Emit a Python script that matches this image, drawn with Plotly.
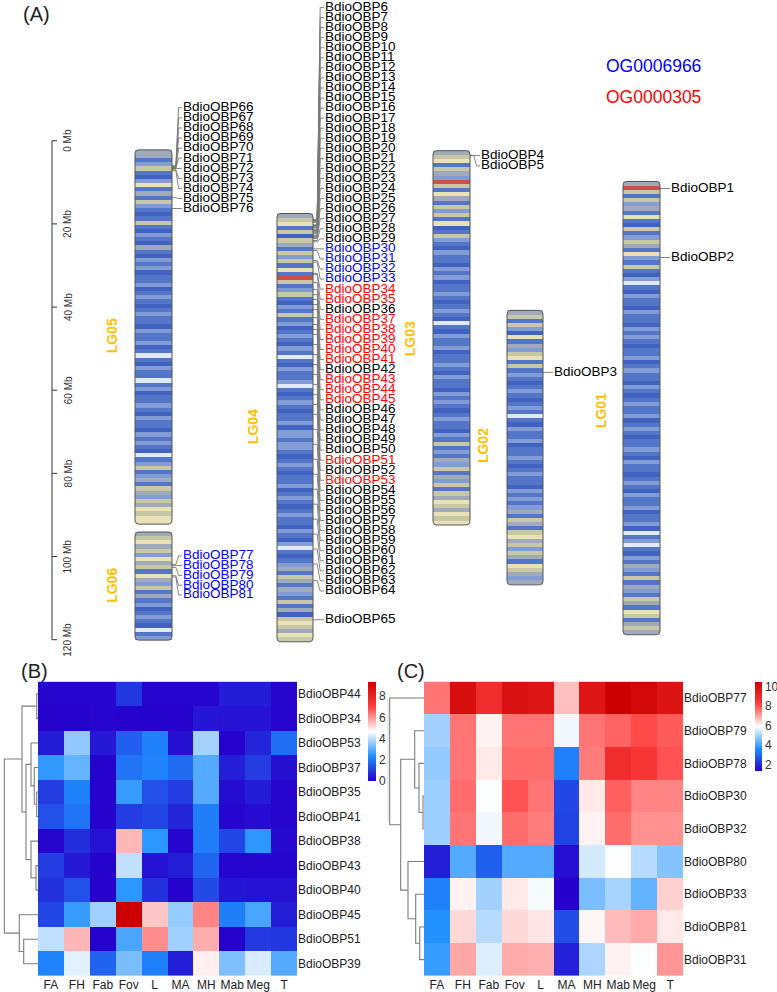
import plotly.graph_objects as go

W, H = 777, 992
FONT = "Liberation Sans, Arial, sans-serif"

def py(p):
    return 1 - p / H

# ---------------- Panel A data ----------------
chrom_names = ["LG05", "LG06", "LG04", "LG03", "LG02", "LG01"]
chrom_start_mb = [2.2, 94.1, 17.5, 2.4, 40.8, 9.8]

# density class per 1 Mb bin (0 white, 1 light blue, 2 blue, 3 dark blue, 4 grey, 5 khaki, 6 pale yellow, 7 red)
dens_LG05 = [4,4,2,1,5,2,3,1,6,2,4,2,5,1,2,3,2,5,2,3,1,2,3,4,2,3,1,
             2,1,3,2,2,1,3,2,1,2,3,2,1,2,2,3,1,2,2,1,3,2,
             0,2,3,1,2,2,0,
             2,1,3,2,2,1,2,3,1,2,2,3,1,2,1,2,3,0,2,1,
             5,2,1,4,2,5,4,1,5,4,6,5,6,6]
dens_LG06 = [4,5,6,4,5,1,6,4,5,2,6,4,1,5,2,4,2,1,3,2,1,2,3,0,2,1]
dens_LG04 = [4,5,6,2,5,3,5,4,2,5,1,5,2,6,2,7,5,2,1,5,2,3,1,2,5,
             2,1,3,2,1,2,3,1,2,0,2,3,1,2,2,1,0,
             2,3,2,1,2,3,2,2,1,3,1,1,2,1,1,2,3,2,1,2,3,2,2,1,3,2,1,2,3,2,1,2,2,3,1,2,3,1,
             0,2,3,2,1,4,2,5,4,2,4,1,2,5,2,4,3,5,6,5,4,6,5]
dens_LG03 = [4,5,6,2,5,4,1,7,5,2,6,4,2,5,1,5,2,6,3,2,5,1,
             2,3,1,2,2,3,1,2,1,3,2,2,1,2,3,2,1,2,3,0,
             2,3,1,2,2,1,3,2,2,1,2,3,1,2,2,3,1,2,1,2,3,2,1,2,2,3,1,2,5,2,1,2,4,1,
             5,2,4,1,5,2,5,4,6,5,4,6,5,6]
dens_LG02 = [4,5,2,5,1,3,6,2,4,1,5,6,2,5,2,1,2,
             3,2,1,2,3,2,1,2,0,
             2,3,1,2,2,1,3,2,2,1,2,3,2,1,2,2,3,1,2,1,
             2,1,4,2,5,4,2,5,6,4,5,1,5,4,2,6,5,4,1,4]
dens_LG01 = [4,7,5,2,5,1,4,2,6,2,3,5,2,1,5,4,2,6,1,2,5,2,3,1,0,2,3,1,2,
             2,3,1,2,2,3,1,2,1,2,3,2,2,1,3,2,1,2,2,3,1,2,3,2,1,2,2,1,3,2,1,2,3,2,2,1,2,3,1,2,2,3,2,1,2,3,1,2,2,1,3,2,
             2,1,3,0,2,1,0,2,3,1,2,4,1,2,5,2,4,1,2,5,4,2,6,5,2,4,5,4]
chrom_density = [dens_LG05, dens_LG06, dens_LG04, dens_LG03, dens_LG02, dens_LG01]

genes_LG05 = [66, 67, 68, 69, 70, 71, 72, 73, 74, 75, 76]
pos_LG05 = [6.0, 6.2, 6.4, 6.5, 6.6, 6.7, 6.8, 7.0, 7.2, 13.7, 16.3]
genes_LG06 = [77, 78, 79, 80, 81]
pos_LG06 = [101.9, 102.2, 102.6, 104.6, 104.9]
genes_LG04 = list(range(6, 66))
pos_LG04 = [18.9, 19.0, 19.2, 19.3, 19.5, 19.6,
            20.2, 20.4, 20.5, 20.7, 20.9, 21.0,
            21.4, 21.6, 21.8, 22.0, 22.2, 22.4,
            22.8, 23.0, 23.3, 23.5, 24.0, 24.3,
            26.0, 26.4, 28.8, 29.2, 31.9, 32.2, 34.1,
            35.8, 37.0, 38.2, 39.4, 40.6, 42.5, 44.2, 45.4, 46.6,
            49.0, 51.4, 53.8, 56.2, 58.6, 61.0, 63.4, 65.8,
            69.4, 73.0, 76.6, 80.2, 83.8, 87.4, 91.0, 94.6, 98.2, 101.8,
            105.8, 115.2]
genes_LG03 = [4, 5]
pos_LG03 = [3.5, 3.6]
genes_LG02 = [3]
pos_LG02 = [55.7]
genes_LG01 = [1, 2]
pos_LG01 = [11.5, 28.1]

og_blue = [30, 31, 32, 33, 77, 78, 79, 80, 81]
og_red = [34, 35, 37, 38, 39, 40, 41, 43, 44, 45, 51, 53]
legend_names = ["OG0006966", "OG0000305"]

scale_ticks = [0, 20, 40, 60, 80, 100, 120]

# ---------------- Panel B / C data ----------------
tissues = ["FA", "FH", "Fab", "Fov", "L", "MA", "MH", "Mab", "Meg", "T"]
rows_B = ["BdioOBP44", "BdioOBP34", "BdioOBP53", "BdioOBP37", "BdioOBP35", "BdioOBP41",
          "BdioOBP38", "BdioOBP43", "BdioOBP40", "BdioOBP45", "BdioOBP51", "BdioOBP39"]
expr_B = [
    [0.10, 0.10, 0.10, 0.90, 0.10, 0.10, 0.10, 0.45, 0.45, 0.10],
    [0.05, 0.05, 0.10, 0.05, 0.05, 0.05, 0.35, 0.30, 0.30, 0.10],
    [0.45, 3.55, 0.40, 1.55, 2.10, 0.25, 3.75, 0.05, 0.60, 1.80],
    [2.55, 3.10, 0.05, 1.90, 2.15, 1.75, 2.90, 0.50, 1.00, 0.25],
    [1.00, 2.10, 0.05, 2.60, 1.30, 1.00, 2.90, 0.20, 0.45, 0.10],
    [1.30, 1.90, 0.05, 1.00, 1.15, 0.60, 2.05, 0.10, 0.20, 0.10],
    [0.10, 0.75, 0.30, 5.60, 2.50, 0.10, 2.05, 1.15, 2.50, 0.15],
    [1.00, 0.40, 0.05, 4.05, 0.30, 0.50, 1.65, 0.10, 0.10, 0.10],
    [0.80, 1.30, 0.05, 2.50, 0.80, 0.05, 1.20, 0.35, 0.30, 0.30],
    [1.15, 2.60, 3.70, 9.40, 5.40, 3.60, 6.20, 2.05, 2.80, 0.50],
    [4.05, 5.60, 0.05, 2.80, 6.10, 3.70, 5.70, 0.05, 0.95, 0.90],
    [2.15, 4.40, 1.60, 3.30, 2.10, 0.50, 4.90, 3.35, 4.30, 2.90],
]
rows_C = ["BdioOBP77", "BdioOBP79", "BdioOBP78", "BdioOBP30", "BdioOBP32",
          "BdioOBP80", "BdioOBP33", "BdioOBP81", "BdioOBP31"]
expr_C = [
    [7.6, 10.0, 8.9, 9.9, 9.7, 6.7, 9.7, 10.5, 10.2, 9.8],
    [5.0, 7.6, 6.1, 7.6, 7.6, 5.8, 7.6, 7.8, 8.1, 7.9],
    [4.85, 7.6, 6.2, 7.7, 7.7, 3.4, 7.5, 8.9, 8.6, 8.0],
    [4.95, 7.7, 5.9, 8.0, 7.6, 2.5, 6.2, 7.85, 7.4, 7.4],
    [4.95, 7.6, 5.8, 7.7, 7.5, 2.45, 6.1, 7.7, 7.25, 7.25],
    [1.85, 4.2, 2.9, 4.2, 4.2, 1.6, 5.5, 5.9, 5.2, 4.7],
    [3.4, 6.1, 5.0, 6.2, 5.85, 1.38, 4.6, 5.05, 4.35, 6.5],
    [3.7, 6.4, 5.2, 6.4, 6.25, 2.6, 6.05, 6.75, 6.95, 6.2],
    [3.9, 7.0, 5.6, 6.95, 6.9, 1.9, 5.1, 6.1, 5.9, 7.2],
]
# dendrogram merges: (child a, child b, height)
merges_B = [(0, 1, 1.3), (4, 5, 1.3), (3, 13, 3.7), (2, 14, 7.0), (7, 8, 2.0),
            (6, 16, 7.0), (15, 17, 12.0), (12, 18, 16.0), (10, 11, 14.3),
            (9, 20, 18.7), (19, 21, 33.7)]
merges_C = [(3, 4, 1.0), (2, 9, 5.0), (1, 10, 9.3), (7, 8, 4.3), (6, 12, 8.3),
            (5, 13, 16.0), (11, 14, 23.3), (0, 15, 34.3)]

# ---------------- styles / layout ----------------
dens_colors = ["rgb(226,233,250)", "rgb(130,156,214)", "rgb(84,118,200)", "rgb(64,99,193)",
               "rgb(160,170,186)", "rgb(200,200,166)", "rgb(232,226,182)", "rgb(205,80,72)"]
ncls = len(dens_colors)
dens_cs = []
for k, c in enumerate(dens_colors):
    dens_cs.append([k / ncls, c])
    dens_cs.append([(k + 1) / ncls, c])

chrom_x = {"LG05": (135, 172), "LG06": (135, 172), "LG04": (277, 313),
           "LG03": (433, 470), "LG02": (507, 543), "LG01": (623, 660)}
chrom_label_xy = {"LG05": (112, 337), "LG06": (112, 587), "LG04": (253, 428),
                  "LG03": (410, 340), "LG02": (483, 447), "LG01": (601, 412)}

PX_PER_MB = 4.1667
MB0_PX = 141.0
def mb(p):
    return (p - MB0_PX) / PX_PER_MB

fig = go.Figure()

# chromosomes
shapes = []
for name, start, dens in zip(chrom_names, chrom_start_mb, chrom_density):
    x0, x1 = chrom_x[name]
    n = len(dens)
    yedges = [start + i for i in range(n + 1)]
    fig.add_trace(go.Heatmap(z=[[v] for v in dens], x=[x0, x1], y=yedges,
                             colorscale=dens_cs, zmin=-0.5, zmax=ncls - 0.5,
                             showscale=False, hoverinfo="skip", xaxis="x", yaxis="y"))
    y0, y1 = start, start + n
    rx, ry = 4, 1.1
    path = (f"M {x0},{y0+ry} Q {x0},{y0} {x0+rx},{y0} L {x1-rx},{y0} Q {x1},{y0} {x1},{y0+ry} "
            f"L {x1},{y1-ry} Q {x1},{y1} {x1-rx},{y1} L {x0+rx},{y1} Q {x0},{y1} {x0},{y1-ry} Z")
    shapes.append(dict(type="path", path=path, xref="x", yref="y",
                       line=dict(color="rgb(85,85,85)", width=1)))

# gene labels and connectors
gene_groups = [
    # genes, positions, chrom right edge, text x, stacked label start (px), step (px), n stacked
    (genes_LG05, pos_LG05, 172, 183, 108.0, 10.1, 11),
    (genes_LG06, pos_LG06, 172, 183, 557.0, 9.8, 5),
    (genes_LG04, pos_LG04, 313, 325, 7.5, 10.08, 59),
    (genes_LG03, pos_LG03, 470, 481, 156.0, 10.2, 2),
    (genes_LG02, pos_LG02, 543, 554, 0, 0, 0),
    (genes_LG01, pos_LG01, 660, 671, 0, 0, 0),
]
for genes, pos, xr, xt, lstart, lstep, nst in gene_groups:
    labs = []
    for i, g in enumerate(pos):
        if i < nst:
            labs.append(mb(lstart + lstep * i))
        else:
            labs.append(g)
    xs, ys = [], []
    gap = xt - xr
    for g, l in zip(pos, labs):
        xs += [xr, xr + gap * 0.35, xr + gap * 0.6, xt - 1, None]
        ys += [g, g, l, l, None]
    fig.add_trace(go.Scatter(x=xs, y=ys, mode="lines", line=dict(color="rgb(120,120,120)", width=0.9),
                             hoverinfo="skip", showlegend=False, xaxis="x", yaxis="y"))
    cols = ["#0000FF" if g in og_blue else ("#FF0000" if g in og_red else "#000000") for g in genes]
    fig.add_trace(go.Scatter(x=[xt] * len(genes), y=labs, mode="text",
                             text=[f"BdioOBP{g}" for g in genes], textposition="middle right",
                             textfont=dict(family=FONT, size=13.5, color=cols),
                             cliponaxis=False, hoverinfo="skip", showlegend=False,
                             xaxis="x", yaxis="y"))

# scale bar
sx, sy = [52, 52, None], [scale_ticks[0], scale_ticks[-1], None]
for t in scale_ticks:
    sx += [52, 57, None]
    sy += [t, t, None]
fig.add_trace(go.Scatter(x=sx, y=sy, mode="lines", line=dict(color="#333", width=1),
                         hoverinfo="skip", showlegend=False, xaxis="x", yaxis="y"))

annotations = []
for t in scale_ticks:
    annotations.append(dict(x=68, y=t, xref="x", yref="y", text=f"{t} Mb", textangle=-90,
                            showarrow=False, font=dict(family=FONT, size=10, color="#333")))
for name in chrom_names:
    lx, ly = chrom_label_xy[name]
    annotations.append(dict(x=lx, y=mb(ly), xref="x", yref="y", text=f"<b>{name}</b>",
                            textangle=-90, showarrow=False,
                            font=dict(family=FONT, size=14, color="#FFC000")))
annotations.append(dict(x=653, y=mb(66), xref="x", yref="y", text=legend_names[0], showarrow=False,
                        font=dict(family=FONT, size=17.5, color="#0000FF")))
annotations.append(dict(x=653, y=mb(97), xref="x", yref="y", text=legend_names[1], showarrow=False,
                        font=dict(family=FONT, size=17.5, color="#FF0000")))
for lab, x, y in [("(A)", 36, 14), ("(B)", 34, 672), ("(C)", 411, 672)]:
    annotations.append(dict(x=x / W, y=py(y), xref="paper", yref="paper", text=lab, showarrow=False,
                            xanchor="center", yanchor="middle",
                            font=dict(family=FONT, size=20, color="#222")))

# heatmaps
hm_cs = [[0, "rgb(38,0,204)"], [0.25, "rgb(30,144,255)"], [0.5, "rgb(255,255,255)"],
         [0.75, "rgb(255,64,64)"], [1, "rgb(204,0,0)"]]
fig.add_trace(go.Heatmap(z=expr_B, x=tissues, y=rows_B, colorscale=hm_cs, zmin=0, zmax=9.4,
                         xaxis="x2", yaxis="y2", hoverinfo="skip",
                         colorbar=dict(x=368 / W, xanchor="left", y=py(732.5), yanchor="middle",
                                       len=99, lenmode="pixels", thickness=8,
                                       outlinewidth=0, tickvals=[0, 2, 4, 6, 8], ticks="",
                                       tickfont=dict(family=FONT, size=12, color="#333"),
                                       xpad=0, ypad=0)))
fig.add_trace(go.Heatmap(z=expr_C, x=tissues, y=rows_C, colorscale=hm_cs, zmin=1.38, zmax=10.5,
                         xaxis="x4", yaxis="y4", hoverinfo="skip",
                         colorbar=dict(x=755 / W, xanchor="left", y=py(727.5), yanchor="middle",
                                       len=89, lenmode="pixels", thickness=7,
                                       outlinewidth=0, tickvals=[2, 4, 6, 8, 10], ticks="",
                                       tickfont=dict(family=FONT, size=12, color="#333"),
                                       xpad=0, ypad=0)))

def dendro_lines(merges, n):
    pos = {i: float(i) for i in range(n)}
    hgt = {i: 0.0 for i in range(n)}
    xs, ys = [], []
    for k, (a, b, h) in enumerate(merges):
        xs += [hgt[a], h, h, hgt[b], None]
        ys += [pos[a], pos[a], pos[b], pos[b], None]
        pos[n + k] = (pos[a] + pos[b]) / 2
        hgt[n + k] = h
    return xs, ys

for merges, n, xa, ya in [(merges_B, len(rows_B), "x3", "y3"), (merges_C, len(rows_C), "x5", "y5")]:
    xs, ys = dendro_lines(merges, n)
    fig.add_trace(go.Scatter(x=xs, y=ys, mode="lines", line=dict(color="rgb(125,125,125)", width=1.1),
                             hoverinfo="skip", showlegend=False, xaxis=xa, yaxis=ya))

# faint vertical rule seen between panels B and C
shapes.append(dict(type="line", xref="paper", yref="paper", x0=388 / W, x1=388 / W,
                   y0=py(823), y1=py(700), line=dict(color="rgb(215,215,215)", width=1)))

hidden = dict(visible=False, showgrid=False, zeroline=False)
hm_top, hm_bot = 683, 978
layout = dict(
    width=W, height=H, margin=dict(l=0, r=0, t=0, b=0),
    paper_bgcolor="white", plot_bgcolor="rgba(0,0,0,0)", showlegend=False,
    xaxis=dict(domain=[0, 1], range=[0, W], **hidden),
    yaxis=dict(domain=[py(660), 1], range=[mb(660), mb(0)], **hidden),
    xaxis2=dict(domain=[38 / W, 297 / W], anchor="y2", showgrid=False, zeroline=False, ticks="",
                tickfont=dict(family=FONT, size=12, color="#222"), showline=False),
    yaxis2=dict(domain=[py(hm_bot), py(hm_top)], anchor="x2", side="right", autorange="reversed",
                showgrid=False, zeroline=False, ticks="",
                tickfont=dict(family=FONT, size=12, color="#222")),
    xaxis3=dict(domain=[3 / W, 38 / W], range=[35, 0], anchor="y3", **hidden),
    yaxis3=dict(domain=[py(hm_bot), py(hm_top)], range=[len(rows_B) - 0.5, -0.5], anchor="x3", **hidden),
    xaxis4=dict(domain=[424 / W, 683 / W], anchor="y4", showgrid=False, zeroline=False, ticks="",
                tickfont=dict(family=FONT, size=12, color="#222")),
    yaxis4=dict(domain=[py(hm_bot), py(hm_top)], anchor="x4", side="right", autorange="reversed",
                showgrid=False, zeroline=False, ticks="",
                tickfont=dict(family=FONT, size=12, color="#222")),
    xaxis5=dict(domain=[389 / W, 424 / W], range=[35, 0], anchor="y5", **hidden),
    yaxis5=dict(domain=[py(hm_bot), py(hm_top)], range=[len(rows_C) - 0.5, -0.5], anchor="x5", **hidden),
    shapes=shapes, annotations=annotations,
)
fig.update_layout(**layout)
fig.write_html("out.html", config={"displayModeBar": False},
               post_script="document.body.style.margin='0px';")
